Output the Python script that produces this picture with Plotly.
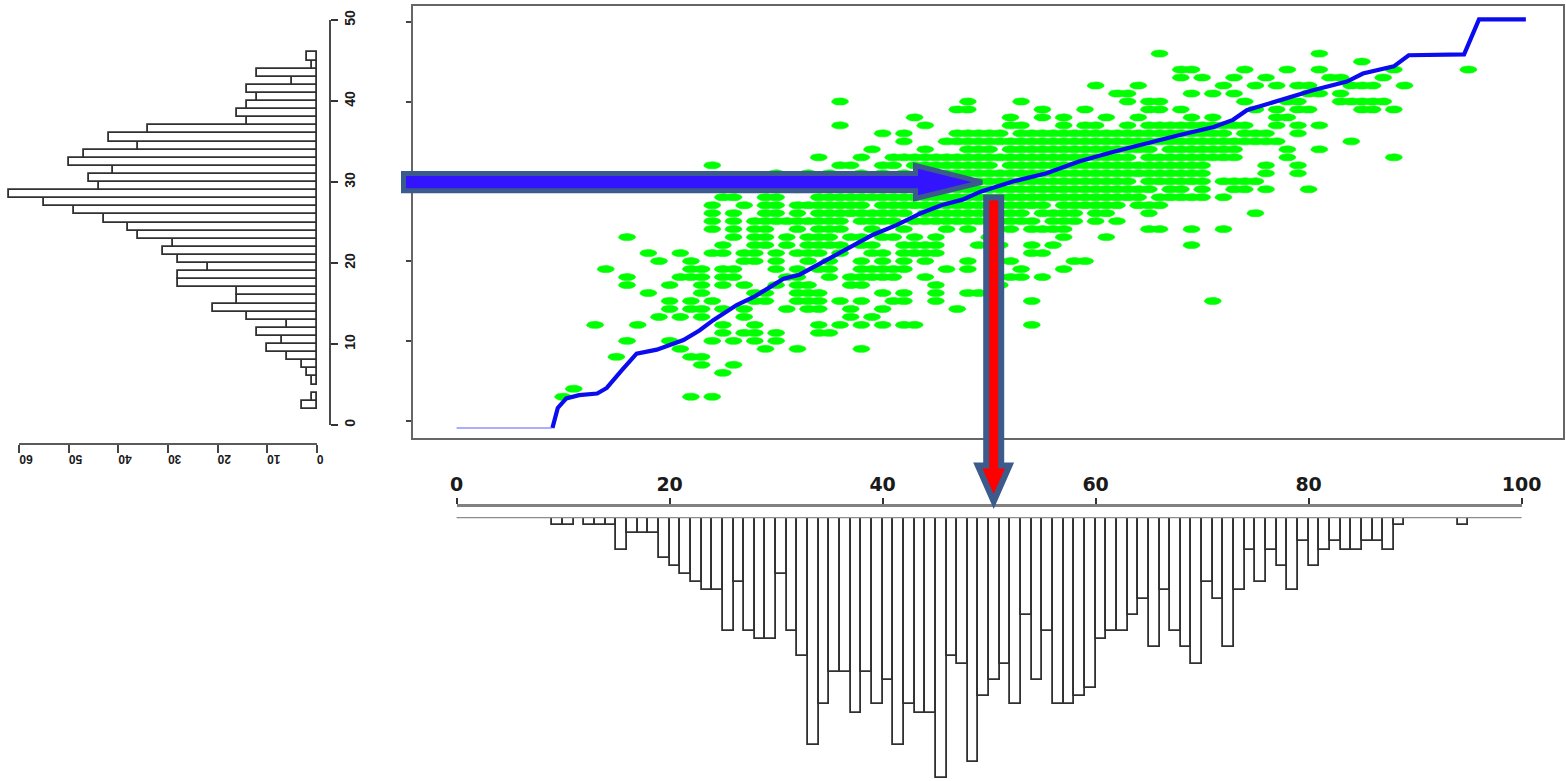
import numpy as np
import plotly.graph_objects as go

W, H = 1566, 781

# ---------------- left histogram (vertical variable, drawn sideways) ----------------
left_bin_lo = [2, 3, 4, 5, 6, 7, 8, 9, 10, 11, 12, 13, 14, 15, 16, 17, 18, 19, 20, 21, 22,
               23, 24, 25, 26, 27, 28, 29, 30, 31, 32, 33, 34, 35, 36, 37, 38, 39, 40, 41,
               42, 43, 44, 45]
left_counts = [3, 1, 0, 1, 2, 3, 6, 10, 7, 12, 6, 14, 21, 16, 16, 28, 28, 22, 28, 31, 29,
               36, 38, 43, 49, 55, 62, 44, 46, 41, 50, 47, 36, 42, 34, 14, 16, 14, 12, 14,
               5, 12, 1, 2]
left_value_ticks = [0, 10, 20, 30, 40, 50]
left_count_ticks = [0, 10, 20, 30, 40, 50, 60]

# ---------------- bottom histogram (horizontal variable, hanging down) ----------------
bottom_bin_lo = [9, 10, 11, 12, 13, 14, 15, 16, 17, 18, 19, 20, 21, 22, 23, 24, 25, 26, 27,
                 28, 29, 30, 31, 32, 33, 34, 35, 36, 37, 38, 39, 40, 41, 42, 43, 44, 45, 46,
                 47, 48, 49, 50, 51, 52, 53, 54, 55, 56, 57, 58, 59, 60, 61, 62, 63, 64, 65,
                 66, 67, 68, 69, 70, 71, 72, 73, 74, 75, 76, 77, 78, 79, 80, 81, 82, 83, 84,
                 85, 86, 87, 88, 94]
bottom_counts = [1, 1, 0, 1, 1, 1, 4, 2, 2, 2, 5, 6, 7, 8, 9, 9, 14, 8, 14,
                 15, 15, 7, 14, 17, 28, 23, 19, 19, 24, 19, 23, 20, 28, 23, 24, 24, 32, 17,
                 18, 30, 22, 20, 18, 23, 12, 20, 14, 23, 23, 22, 21, 15, 14, 14, 12, 10, 16,
                 9, 14, 16, 18, 8, 10, 16, 9, 4, 8, 4, 6, 9, 3, 6, 4, 3, 4, 4,
                 3, 3, 4, 1, 1]
bottom_value_ticks = [0, 20, 40, 60, 80, 100]

# ---------------- quantile-quantile curve ----------------
qq_tail_x = [0, 9.0]
qq_tail_y = [-0.9, -0.9]
qq_x = [9.0, 9.5, 10.3, 11.5, 13.2, 14.1, 15.5, 16.9, 18.8, 21.3, 22.8, 24.1, 26.3, 27.9,
        29.5, 30.7, 32.2, 34.4, 36.6, 39.1, 41.3, 43.6, 45.5, 47.5, 49.2, 52.3, 55.4, 58.5,
        61.7, 64.8, 67.9, 71.1, 72.9, 74.2, 77.3, 80.4, 83.6, 85.1, 88.0, 89.4, 94.6, 96.0,
        100.4]
qq_y = [-0.9, 1.6, 2.8, 3.2, 3.4, 4.1, 6.3, 8.4, 8.9, 10.1, 11.3, 12.6, 14.5, 15.5,
        16.8, 17.8, 18.3, 19.9, 21.6, 23.3, 24.5, 26.0, 27.0, 27.7, 28.7, 30.0, 31.0, 32.5,
        33.7, 34.8, 35.8, 36.8, 37.7, 38.9, 40.2, 41.4, 42.5, 43.5, 44.4, 45.8, 45.9, 50.3,
        50.3]

# ---------------- joint observations (rows of equal y) ----------------
cloud_y_levels = [3, 4, 6, 7, 8, 9, 10, 11, 12, 13, 14, 15, 16, 17, 18, 19, 20, 21, 22, 23,
                  24, 25, 26, 27, 28, 29, 30, 31, 32, 33, 34, 35, 36, 37, 38, 39, 40, 41,
                  42, 43, 44, 45, 46]
cloud_x_rows = [
    [10, 22, 24],
    [11],
    [25],
    [23, 26],
    [15, 22, 23],
    [21, 29, 32, 38],
    [16, 20, 24, 26, 28, 30],
    [25, 27, 28, 30, 34, 35],
    [13, 17, 25, 28, 34, 36, 38, 40, 42, 43, 54],
    [19, 21, 23, 27, 37, 39],
    [20, 22, 23, 25, 27, 31, 33, 34, 37, 40, 47],
    [20, 22, 24, 28, 29, 32, 33, 34, 36, 38, 41, 42, 45, 54, 71],
    [18, 23, 28, 29, 32, 33, 34, 40, 42, 45, 48, 49],
    [16, 20, 23, 25, 27, 30, 32, 33, 37, 38, 45, 51],
    [16, 21, 22, 23, 25, 26, 31, 32, 35, 37, 38, 39, 40, 41, 44, 52, 53, 55],
    [14, 22, 23, 25, 26, 30, 32, 34, 35, 38, 39, 40, 41, 42, 46, 48, 53, 57],
    [19, 22, 27, 28, 30, 33, 35, 38, 40, 42, 44, 48, 52, 58, 59],
    [18, 21, 24, 25, 27, 28, 30, 32, 33, 34, 36, 39, 40, 42, 43, 44, 45, 54, 55],
    [25, 28, 29, 31, 33, 34, 35, 36, 38, 39, 42, 43, 44, 45, 49, 51, 54, 56, 69],
    [16, 26, 28, 29, 31, 33, 34, 35, 37, 38, 40, 41, 43, 45, 50, 57, 61],
    [24, 26, 28, 29, 32, 34, 35, 36, 39, 42, 46, 48, 52, 54, 55, 56, 57, 65, 66, 69, 72],
    [24, 26, 28, 29, 30, 31, 32, 33, 34, 35, 36, 38, 39, 40, 41, 43, 44, 45, 46, 47, 48,
     49, 51, 52, 53, 54, 56, 57, 58, 60, 62],
    [24, 26, 29, 30, 32, 34, 35, 36, 37, 38, 39, 40, 41, 42, 44, 45, 46, 47, 48, 49, 50,
     51, 52, 53, 55, 56, 57, 58, 60, 61, 65, 75],
    [24, 27, 29, 30, 32, 33, 34, 35, 36, 37, 38, 40, 41, 42, 43, 44, 45, 46, 47, 48, 49,
     50, 51, 52, 53, 54, 55, 57, 58, 59, 60, 61, 62, 64, 65, 66],
    [25, 26, 29, 30, 34, 35, 36, 37, 38, 39, 40, 41, 42, 43, 44, 45, 46, 47, 48, 49, 50,
     51, 52, 53, 54, 55, 56, 57, 58, 59, 60, 61, 62, 63, 64, 66, 67, 68, 69, 70, 72],
    [32, 35, 37, 40, 42, 43, 44, 45, 46, 47, 48, 49, 50, 51, 52, 53, 54, 55, 56, 57, 58,
     59, 60, 61, 62, 63, 64, 65, 67, 68, 70, 73, 74, 76, 80],
    [28, 34, 36, 39, 41, 43, 44, 45, 46, 47, 48, 49, 50, 51, 52, 53, 54, 55, 56, 57, 58,
     59, 60, 61, 62, 63, 65, 66, 67, 68, 69, 70, 72, 73, 74, 75],
    [30, 33, 35, 38, 40, 42, 44, 45, 46, 47, 48, 49, 50, 51, 52, 53, 54, 55, 56, 57, 58,
     59, 60, 61, 62, 63, 64, 65, 66, 67, 68, 69, 70, 76, 79],
    [24, 36, 37, 40, 41, 43, 44, 45, 46, 47, 48, 49, 50, 52, 53, 54, 55, 56, 57, 58, 59,
     60, 61, 62, 63, 64, 65, 66, 67, 68, 69, 70, 76, 79],
    [34, 38, 41, 42, 43, 44, 45, 46, 47, 48, 49, 50, 51, 52, 53, 54, 55, 56, 57, 58, 59,
     60, 61, 62, 63, 65, 66, 67, 68, 69, 70, 71, 72, 73, 78, 88],
    [39, 44, 48, 49, 50, 52, 53, 54, 55, 56, 57, 58, 59, 60, 61, 62, 63, 64, 65, 67, 68,
     69, 70, 71, 72, 73, 78, 81],
    [42, 46, 47, 48, 49, 50, 51, 52, 53, 54, 55, 56, 57, 58, 59, 60, 61, 62, 63, 64, 65,
     66, 67, 68, 69, 70, 71, 72, 73, 74, 75, 76, 77, 84],
    [40, 42, 47, 48, 49, 50, 51, 53, 54, 55, 56, 57, 58, 59, 60, 61, 62, 63, 64, 65, 66,
     67, 68, 69, 70, 71, 72, 74, 75, 76, 79],
    [36, 44, 52, 53, 57, 59, 60, 63, 65, 66, 67, 68, 69, 70, 71, 72, 73, 74, 77, 79, 81],
    [43, 52, 55, 57, 61, 64, 69, 71, 77, 78],
    [47, 48, 55, 59, 65, 66, 68, 75, 77, 79, 80, 85, 86, 88],
    [36, 48, 53, 63, 65, 66, 74, 78, 79, 83, 84, 85, 86, 87],
    [62, 63, 69, 71, 73, 80, 81, 83],
    [60, 64, 72, 75, 77, 79, 80, 84, 85, 86, 89],
    [68, 70, 73, 76, 82, 83, 87],
    [68, 69, 74, 78, 81, 88, 95],
    [85],
    [66, 81],
]


def fx(px):
    return px / W


def fy(py):
    return 1 - py / H


# pixel -> data mappings of the panels
SC_X0, SC_XU = 456.6, 10.65      # horizontal variable: pixel of 0, pixels per unit
SC_Y0, SC_YU = 420.7, 7.98       # vertical variable in the scatter panel
LH_C0, LH_CU = 316.7, 4.957      # left histogram counts
BH_Y0, BH_CU = 517.0, 8.15       # bottom histogram counts

fig = go.Figure()

# green observations drawn as flat ellipses
RX, RY = 0.8, 0.45
t = np.linspace(0, 2 * np.pi, 21)
ex, ey = [], []
for yv, row in zip(cloud_y_levels, cloud_x_rows):
    for xv in row:
        ex.extend((xv + RX * np.cos(t)).tolist() + [None])
        ey.extend((yv + RY * np.sin(t)).tolist() + [None])
fig.add_trace(go.Scatter(x=ex, y=ey, mode="lines", fill="toself",
                         fillcolor="#00ff00", line=dict(color="#00ff00", width=0.6),
                         hoverinfo="skip", showlegend=False, xaxis="x", yaxis="y"))

# quantile curve
fig.add_trace(go.Scatter(x=qq_tail_x, y=qq_tail_y, mode="lines",
                         line=dict(color="#9090ff", width=1.5),
                         hoverinfo="skip", showlegend=False, xaxis="x", yaxis="y"))
fig.add_trace(go.Scatter(x=qq_x, y=qq_y, mode="lines",
                         line=dict(color="#0b0bf0", width=4.2),
                         hoverinfo="skip", showlegend=False, xaxis="x", yaxis="y"))

# left histogram bars (pointing left)
lh = [(lo + 0.5, c) for lo, c in zip(left_bin_lo, left_counts) if c > 0]
fig.add_trace(go.Bar(y=[p[0] for p in lh], x=[p[1] for p in lh], orientation="h",
                     width=1, marker=dict(color="white", line=dict(color="#303030", width=1.8)),
                     hoverinfo="skip", showlegend=False, xaxis="x2", yaxis="y2"))

# bottom histogram bars (hanging down)
bh = [(lo + 0.5, c) for lo, c in zip(bottom_bin_lo, bottom_counts) if c > 0]
fig.add_trace(go.Bar(x=[p[0] for p in bh], y=[p[1] for p in bh], width=1,
                     marker=dict(color="white", line=dict(color="#303030", width=1.8)),
                     hoverinfo="skip", showlegend=False, xaxis="x", yaxis="y4"))

# empty traces so the stand-alone axes are rendered
fig.add_trace(go.Scatter(x=[], y=[], xaxis="x3", yaxis="y2", showlegend=False, hoverinfo="skip"))
fig.add_trace(go.Scatter(x=[], y=[], xaxis="x5", yaxis="y4", showlegend=False, hoverinfo="skip"))

tick_font = dict(family="Liberation Sans", size=14, color="#1a1a1a", weight="bold")
plain = dict(showgrid=False, zeroline=False, automargin=False)

fig.update_layout(
    template="none",
    width=W, height=H, margin=dict(l=0, r=0, t=0, b=0, pad=0, autoexpand=False),
    autosize=False,
    paper_bgcolor="white", plot_bgcolor="rgba(0,0,0,0)", showlegend=False, hovermode=False,
    bargap=0,
    # scatter panel
    xaxis=dict(domain=[fx(413), fx(1563)],
               range=[(413 - SC_X0) / SC_XU, (1563 - SC_X0) / SC_XU],
               showline=True, mirror=True, linecolor="#666666", linewidth=2,
               ticks="", showticklabels=False, anchor="y", **plain),
    yaxis=dict(domain=[fy(438), fy(6)],
               range=[(SC_Y0 - 438) / SC_YU, (SC_Y0 - 6) / SC_YU],
               showline=True, mirror=True, linecolor="#666666", linewidth=2,
               ticks="outside", ticklen=5, tickwidth=2, tickcolor="#444444",
               tickvals=left_value_ticks, showticklabels=False, anchor="x", **plain),
    # left histogram: counts (hidden, used by the bars)
    xaxis2=dict(domain=[0, fx(330)],
                range=[LH_C0 / LH_CU, (LH_C0 - 330) / LH_CU],
                visible=False, anchor="y2", **plain),
    # left histogram value axis
    yaxis2=dict(domain=[fy(425), fy(20)], range=[0, 50], anchor="free",
                position=fx(330), side="right", showline=True, linecolor="#4a4a4a",
                linewidth=2, ticks="outside", ticklen=7, tickwidth=2, tickcolor="#333333",
                tickvals=left_value_ticks, tickangle=-90, tickfont=tick_font, **plain),
    # left histogram count axis
    xaxis3=dict(domain=[fx(LH_C0 - 60 * LH_CU), fx(LH_C0)], range=[60, 0],
                anchor="free", position=fy(444), side="bottom", showline=True,
                linecolor="#5a5a5a", linewidth=2, ticks="outside", ticklen=8, tickwidth=2,
                tickcolor="#444444", tickvals=left_count_ticks, tickangle=180,
                tickfont=dict(family="Liberation Sans", size=12, color="#1a1a1a", weight="bold"),
                **plain),
    # bottom histogram counts (hidden, used by the bars)
    yaxis4=dict(domain=[0, fy(BH_Y0)], range=[(H - BH_Y0) / BH_CU, 0],
                visible=False, anchor="x", **plain),
    # bottom histogram value axis
    xaxis5=dict(domain=[fx(SC_X0), fx(SC_X0 + 100 * SC_XU)], range=[0, 100],
                anchor="free", position=fy(505), side="top", showline=True,
                linecolor="#808080", linewidth=2.5, ticks="outside", ticklen=6, tickwidth=2,
                tickcolor="#333333", tickvals=bottom_value_ticks,
                tickfont=dict(family="DejaVu Sans", size=19, color="#1a1a1a", weight="bold"),
                **plain),
)


def path(points):
    return "M " + " L ".join(f"{fx(x):.5f},{fy(y):.5f}" for x, y in points) + " Z"


shapes = [
    # baseline of the hanging histogram
    dict(type="line", xref="x", yref="y4", x0=0, x1=100, y0=0, y1=0,
         line=dict(color="#8c8c8c", width=2.5), layer="above"),
    # horizontal arrow
    dict(type="path", xref="paper", yref="paper",
         path=path([(403.5, 173.5), (915.5, 173.5), (915.5, 165.5), (982, 182.2),
                    (915.5, 198.5), (915.5, 190.8), (403.5, 190.8)]),
         fillcolor="#3314ff", line=dict(color="#3b5b8c", width=5), layer="above"),
    # vertical arrow
    dict(type="path", xref="paper", yref="paper",
         path=path([(986.2, 197.5), (1001.2, 197.5), (1001.2, 465.5), (1009.5, 465.5),
                    (993.7, 501.5), (977.8, 465.5), (986.2, 465.5)]),
         fillcolor="#ff0000", line=dict(color="#3b5b8c", width=6), layer="above"),
]
fig.update_layout(shapes=shapes)

fig.write_html("out.html", config={"displayModeBar": False})
